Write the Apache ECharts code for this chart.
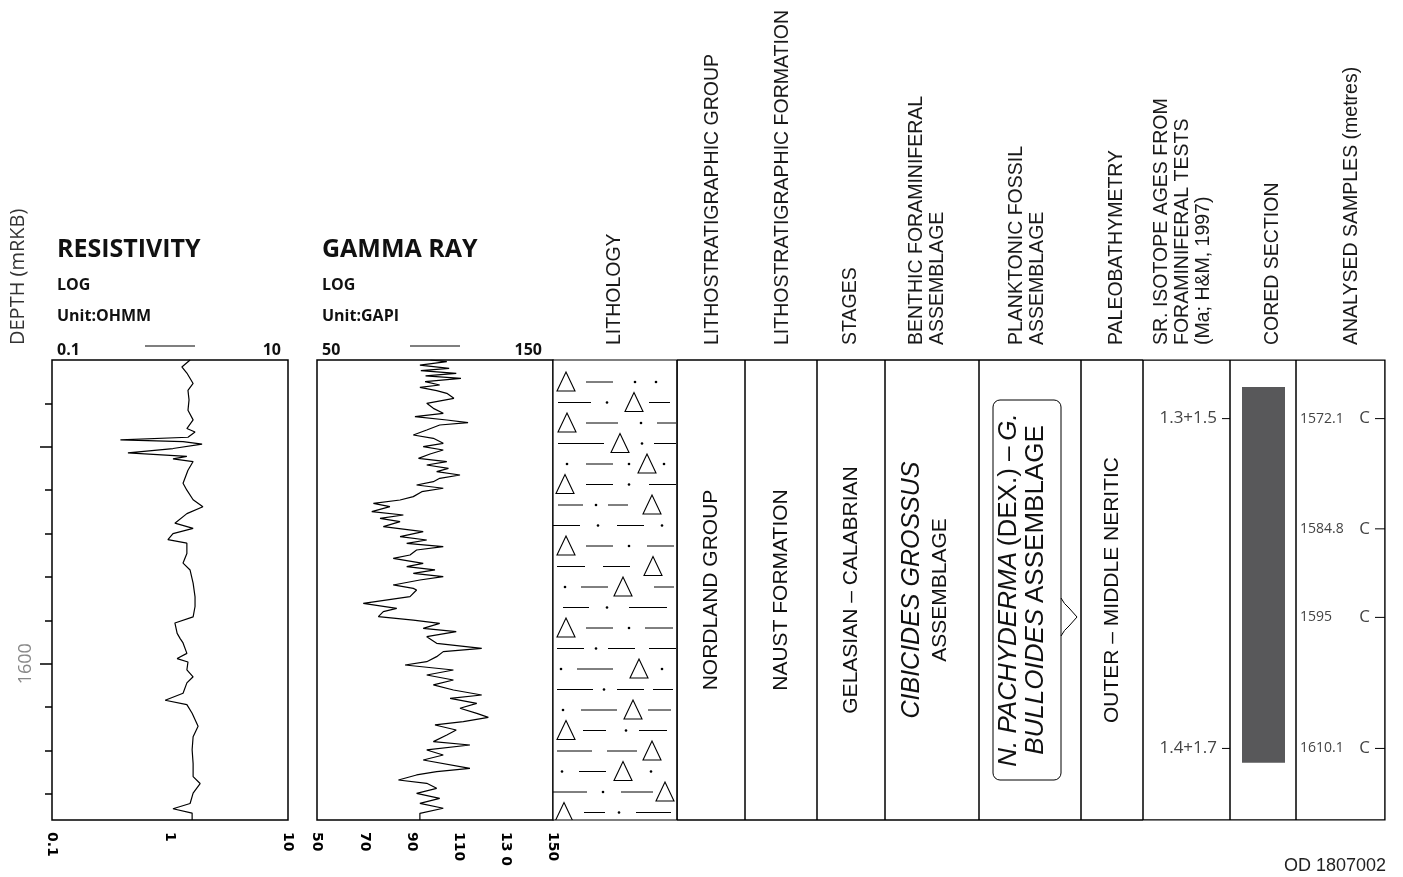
<!DOCTYPE html>
<html><head><meta charset="utf-8">
<script src="https://cdn.jsdelivr.net/npm/echarts@6/dist/echarts.min.js"></script>
<style>html,body{margin:0;padding:0;background:#fff}#c{width:1403px;height:877px}</style>
</head><body><div id="c"></div>
<script>
// ---------------- DATA ----------------
const depthMin = 1565, depthMax = 1618;
const depthLabelValues = [1600];
const depthMinorTicks = [1570,1575,1580,1585,1590,1595,1600,1605,1610,1615];
const depthMajorTicks = [1575, 1600];

const resDepth = [1565.0,1565.8,1566.5,1567.7,1568.5,1569.6,1570.8,1571.9,1572.9,1573.3,1573.9,1574.2,1574.4,1574.7,1575.2,1575.7,1576.1,1576.4,1576.7,1577.7,1579.2,1580.0,1581.1,1581.9,1582.7,1583.8,1584.4,1585.0,1585.7,1586.1,1587.3,1588.4,1589.2,1590.7,1592.3,1593.4,1594.6,1595.3,1596.5,1597.1,1597.6,1598.8,1599.4,1599.8,1600.7,1601.5,1602.2,1603.4,1604.2,1604.7,1605.7,1607.2,1608.4,1609.9,1611.5,1613.0,1613.8,1614.9,1616.1,1616.7,1617.2,1618.0];
const resValue = [1.48,1.26,1.39,1.57,1.42,1.45,1.42,1.57,1.39,1.63,1.42,0.38,1.29,1.87,1.06,0.44,1.39,1.06,1.57,1.42,1.29,1.39,1.57,1.90,1.39,1.10,1.57,1.06,0.96,1.39,1.39,1.29,1.48,1.57,1.63,1.63,1.57,1.10,1.15,1.22,1.29,1.39,1.15,1.42,1.39,1.57,1.39,1.29,0.91,1.39,1.54,1.73,1.57,1.54,1.57,1.57,1.80,1.57,1.48,1.06,1.54,1.54];
const resTickLabels = ['0.1','1','10'];

const grDepth = [1565.0,1565.19,1565.58,1565.96,1566.23,1566.54,1566.84,1567.11,1567.50,1567.88,1568.15,1568.53,1568.84,1569.42,1569.99,1570.57,1571.14,1571.53,1571.91,1572.22,1572.49,1573.06,1573.64,1574.02,1574.60,1574.98,1575.37,1575.83,1576.33,1576.71,1577.10,1577.48,1577.86,1578.25,1578.63,1579.02,1579.40,1579.78,1580.17,1580.74,1581.13,1581.51,1581.90,1582.47,1582.86,1583.24,1583.63,1584.20,1584.78,1585.35,1585.74,1586.12,1586.51,1586.89,1587.47,1587.85,1588.43,1588.81,1589.19,1589.58,1589.96,1590.35,1590.92,1591.31,
 1591.50,1592.27,1593.04,1593.61,1594.00,1594.57,1594.96,1595.34,1595.92,1596.30,1596.88,1597.64,1598.22,1598.60,1599.18,1599.76,1600.14,1600.72,1601.29,1601.87,1602.44,1603.02,1603.60,1603.98,1604.56,1605.13,1605.71,1606.17,1606.67,1607.05,1607.63,1608.20,1608.97,1609.36,1609.93,1610.51,1611.09,1612.05,1612.43,1612.81,1613.39,1613.77,1614.35,1614.93,1615.50,1616.08,1616.65,1617.23,1618.0];
const grValue = [98,105,93.6,106,94,109,96,111,95.8,102,93.6,100.7,105,108,96.5,99.3,103.5,91.5,105,114,102,96.5,90.8,99.3,103.5,95,103.5,97.9,93,105,96.5,105.7,100.7,110.6,102,99.3,92.2,103.5,94.4,90.8,85.2,73.9,80.9,73.2,86.6,76.7,85.2,78.1,95,85.2,96.5,88,103.5,92.2,89.4,82.3,95,88,100,90.8,103.5,93.6,82.3,90.8,
 92.2,89.4,69.6,83.8,78.1,76,90.8,102,95,109,96.5,100.7,119.8,103.5,100.7,96.5,87.3,107.8,96.5,107.8,99.3,107.8,119.8,106.4,117.7,110.6,117.7,122.6,112,100,109,105,99.3,114.8,96.5,103.5,95,114.8,100.7,92.2,84.5,96.5,100.7,92.2,102,93.6,103.5,93.6,93.6];
const grTickLabels = {50:'50',70:'70',90:'90',110:'110',130:'13 0',150:'150'};

const lithoTop = [1565], lithoBase = [1618];
const unitColumns = ['group','formation','stage','benthic','plank','bathy'];
const unitTop  = [1565,1565,1565,1565,1565,1565];
const unitBase = [1618,1618,1618,1618,1618,1618];
const unitLabels = [
  'NORDLAND GROUP',
  'NAUST FORMATION',
  'GELASIAN – CALABRIAN',
  '{bi|CIBICIDES GROSSUS}\n{n|ASSEMBLAGE}',
  '{pi|N. PACHYDERMA} {pn|(DEX.) –} {pi|G.}\n{pi|BULLOIDES} {pn|ASSEMBLAGE}',
  'OUTER – MIDDLE NERITIC'
];
const coreTop = [1568.1], coreBase = [1611.4];
const sampleDepth = [1572.1, 1584.8, 1595, 1610.1];
const sampleLabel = ['1572.1', '1584.8', '1595', '1610.1'];
const sampleType = ['C','C','C','C'];
const isoDepth = [1572.1, 1610.1];
const isoAge = ['1.3+1.5', '1.4+1.7'];

const headerTexts = ['LITHOLOGY','LITHOSTRATIGRAPHIC GROUP','LITHOSTRATIGRAPHIC FORMATION','STAGES',
  'BENTHIC FORAMINIFERAL\nASSEMBLAGE','PLANKTONIC FOSSIL\nASSEMBLAGE','PALEOBATHYMETRY',
  'SR. ISOTOPE AGES FROM\nFORAMINIFERAL TESTS\n(Ma; H&M, 1997)','CORED SECTION','ANALYSED SAMPLES (metres)'];

// ---------------- LAYOUT / STYLE ----------------
const headerX = [615,713,783,851,927,1027,1117,1183,1273,1352];
const COLS = { litho:[0,124], group:[124,192], formation:[192,264], stage:[264,332], benthic:[332,426],
  plank:[426,528], bathy:[528,590], iso:[590,677], core:[677,743], samples:[743,832] };
const frameCols = ['litho','iso','core','samples'];
const LITHO_ROWS = [
 'T13 D33-60 o82 o103','D5-38 o54 T81 D96-117','T14 D33-65 o88 D104-123','D5-51 T67 o89 D101-123',
 'o14 D33-60 o76 T94 o111','T12 D33-60 o76 D96-123','D5-30 o43 D55-75 T99','D0-27 o45 D64-91 o109',
 'T13 D33-60 o76 D94-121','D4-32 D50-77 T100','o12 D28-55 T70 D101-121','D10-36 o54 D76-114',
 'T13 D33-60 o76 D92-120','D4-31 o43 D55-82 D96-123','o8 D24-60 T86 o109','D4-40 o51 D64-91 D100-120',
 'o10 D28-64 T80 D95-118','T13 D30-53 o73 D86-114','D4-39 D54-84 T99','o9 D26-53 T70 o98',
 'D0-34 o50 D68-100 T112','T11 D31-52 o66 D83-118'];
const SANS = '"Liberation Sans", Arial, sans-serif';
const OPEN = '"Open Sans", sans-serif';
const bodyFont = '21px ' + SANS;

function txt(x, y, text, font, fill, align, valign, rot, extra) {
  const s = Object.assign({text, font, fill: fill || '#111', align: align || 'left', verticalAlign: valign || 'middle',
    textAlign: align || 'left', textVerticalAlign: valign || 'middle'}, extra || {});
  return {type:'text', x, y, rotation: rot || 0, style: s, silent: true};
}

const chart = echarts.init(document.getElementById('c'));

const depthBase = {type:'value', inverse:true, min:depthMin, max:depthMax, interval:5,
  splitLine:{show:false}, axisLine:{show:false}};

function rectBetween(api, c, d0, d1) {
  const p0 = api.coord([c[0], d0]);
  const p1 = api.coord([c[1], d1]);
  return {x:p0[0], y:p0[1], width:p1[0]-p0[0], height:p1[1]-p0[1]};
}

function renderLitho(params, api) {
  const r = rectBetween(api, COLS.litho, api.value(0), api.value(1));
  const ch = [{type:'rect', shape:r, style:{fill:'#fff', stroke:'#000', lineWidth:1.2}}];
  LITHO_ROWS.forEach((row, i) => {
    const y = r.y + 22 + i * 20.5;
    row.split(' ').forEach(tok => {
      const k = tok[0];
      if (k === 'T') {
        const cx = r.x + (+tok.slice(1));
        ch.push({type:'polygon', shape:{points:[[cx-9,y+9],[cx+9,y+9],[cx,y-10]]}, style:{fill:'none', stroke:'#000', lineWidth:1.1}});
      } else if (k === 'D') {
        const [a,b] = tok.slice(1).split('-').map(Number);
        ch.push({type:'line', shape:{x1:r.x+a, y1:y, x2:r.x+b, y2:y}, style:{stroke:'#000', lineWidth:1}});
      } else if (k === 'o') {
        const cx = r.x + (+tok.slice(1));
        ch.push({type:'circle', shape:{cx, cy:y, r:1.3}, style:{fill:'#000'}});
      }
    });
  });
  return {type:'group', children: ch};
}

const RICH = {
  bi:{fontFamily:SANS, fontSize:25, fontStyle:'italic', fill:'#111', align:'center', lineHeight:28},
  n:{fontFamily:SANS, fontSize:21, fill:'#111', align:'center', lineHeight:28},
  pi:{fontFamily:SANS, fontSize:26, fontStyle:'italic', fill:'#111', align:'center', lineHeight:27},
  pn:{fontFamily:SANS, fontSize:26, fill:'#111', align:'center', lineHeight:27}
};

function renderUnit(params, api) {
  const i = params.dataIndex;
  const key = unitColumns[i];
  const r = rectBetween(api, COLS[key], api.value(0), api.value(1));
  const cx = r.x + r.width/2, cy = r.y + r.height/2;
  const ch = [{type:'rect', shape:r, style:{fill:'none', stroke:'#000', lineWidth:1}}];
  let tx = cx;
  if (key === 'benthic') tx = cx - 6;
  if (key === 'plank') {
    tx = cx - 8;
    const bx = cx - 37, bw = 68, by = cy - 190, bh = 380;
    ch.push({type:'rect', shape:{x:bx, y:by, width:bw, height:bh, r:7}, style:{fill:'none', stroke:'#000', lineWidth:1}});
    const rx = bx + bw;
    ch.push({type:'path', shape:{pathData:`M${rx} ${cy+8} Q${rx+3} ${cy+14} ${rx+8} ${cy+18} L${rx+16} ${cy+27} L${rx+8} ${cy+36} Q${rx+3} ${cy+40} ${rx} ${cy+46}`},
      style:{fill:'none', stroke:'#000', lineWidth:1}});
  }
  ch.push(txt(tx, cy, unitLabels[i], bodyFont, '#111', 'center', 'middle', Math.PI/2, {rich: RICH}));
  return {type:'group', children: ch};
}

function renderFrame(params, api) {
  const r = rectBetween(api, COLS[frameCols[params.dataIndex]], api.value(0), api.value(1));
  return {type:'rect', shape:r, style:{fill:'none', stroke:'#000', lineWidth:1}};
}

function renderCore(params, api) {
  const c = COLS.core;
  const r = rectBetween(api, [c[0]+12, c[0]+55], api.value(0), api.value(1));
  return {type:'rect', shape:r, style:{fill:'#58585a'}};
}

function renderSample(params, api) {
  const i = params.dataIndex;
  const c = COLS.samples;
  const p = api.coord([c[0], api.value(0)]);
  const pe = api.coord([c[1], api.value(0)]);
  const y = p[1] - 3;
  return {type:'group', children:[
    txt(p[0]+4, y, sampleLabel[i], '14px ' + OPEN, '#444', 'left', 'middle'),
    txt(pe[0]-15, y, sampleType[i], '17px ' + OPEN, '#444', 'right', 'middle'),
    {type:'line', shape:{x1:pe[0]-10, y1:y, x2:pe[0], y2:y}, style:{stroke:'#000', lineWidth:1}}
  ]};
}

function renderIso(params, api) {
  const i = params.dataIndex;
  const c = COLS.iso;
  const pe = api.coord([c[1], api.value(0)]);
  const y = pe[1] - 3;
  return {type:'group', children:[
    txt(pe[0]-13, y, isoAge[i], '17px ' + OPEN, '#444', 'right', 'middle'),
    {type:'line', shape:{x1:pe[0]-8, y1:y, x2:pe[0], y2:y}, style:{stroke:'#000', lineWidth:1}}
  ]};
}

const graphics = [
  txt(18, 345, 'DEPTH (mRKB)', '20px ' + OPEN, '#333', 'left', 'middle', Math.PI/2),
  txt(57, 250, 'RESISTIVITY', 'bold 25px ' + OPEN, '#111', 'left', 'middle'),
  txt(57, 285, 'LOG', 'bold 16px ' + OPEN, '#111', 'left', 'middle'),
  txt(57, 316, 'Unit:OHMM', 'bold 16px ' + OPEN, '#111', 'left', 'middle'),
  txt(57, 350, '0.1', 'bold 16px ' + OPEN, '#111', 'left', 'middle'),
  txt(281, 350, '10', 'bold 16px ' + OPEN, '#111', 'right', 'middle'),
  {type:'line', shape:{x1:145, y1:346, x2:195, y2:346}, style:{stroke:'#000', lineWidth:1.2}},
  txt(322, 250, 'GAMMA RAY', 'bold 25px ' + OPEN, '#111', 'left', 'middle'),
  txt(322, 285, 'LOG', 'bold 16px ' + OPEN, '#111', 'left', 'middle'),
  txt(322, 316, 'Unit:GAPI', 'bold 16px ' + OPEN, '#111', 'left', 'middle'),
  txt(322, 350, '50', 'bold 16px ' + OPEN, '#111', 'left', 'middle'),
  txt(542, 350, '150', 'bold 16px ' + OPEN, '#111', 'right', 'middle'),
  {type:'line', shape:{x1:410, y1:346, x2:460, y2:346}, style:{stroke:'#000', lineWidth:1.2}},
  txt(1386, 866, 'OD 1807002', '18px ' + SANS, '#222', 'right', 'middle')
];
headerTexts.forEach((t, i) => {
  graphics.push(txt(headerX[i], 345, t, '19.5px ' + SANS, '#1a1a1a', 'left', 'middle', Math.PI/2, {lineHeight:21}));
});

const option = {
  animation: false,
  backgroundColor: '#fff',
  grid: [
    {left:52, top:360, width:236, height:460, show:true, borderColor:'#000', borderWidth:1.5, backgroundColor:'transparent'},
    {left:317, top:360, width:236, height:460, show:true, borderColor:'#000', borderWidth:1.5, backgroundColor:'transparent'},
    {left:553, top:360, width:832, height:460, show:true, borderColor:'#000', borderWidth:1.2, backgroundColor:'transparent'}
  ],
  xAxis: [
    {type:'log', logBase:10, min:0.1, max:10, gridIndex:0, position:'bottom',
      axisLine:{show:false}, axisTick:{show:false}, splitLine:{show:false}, minorSplitLine:{show:false},
      axisLabel:{rotate:-90, fontFamily:'DejaVu Sans', fontWeight:'bold', fontSize:14, color:'#000', margin:12,
        formatter: v => resTickLabels[Math.round(Math.log10(v)) + 1] || ''}},
    {type:'value', min:50, max:150, interval:20, gridIndex:1, position:'bottom',
      axisLine:{show:false}, axisTick:{show:false}, splitLine:{show:false},
      axisLabel:{rotate:-90, fontFamily:'DejaVu Sans', fontWeight:'bold', fontSize:14, color:'#000', margin:12,
        formatter: v => grTickLabels[v] || ''}},
    {type:'value', min:0, max:832, gridIndex:2, show:false}
  ],
  yAxis: [
    Object.assign({}, depthBase, {gridIndex:0, position:'left',
      axisTick:{show:true, length:7, customValues:depthMinorTicks, lineStyle:{color:'#000', width:1.5}},
      axisLabel:{show:true, rotate:90, color:'#888', fontSize:18, fontFamily:OPEN, margin:17,
        customValues: depthLabelValues, formatter: v => String(v)}}),
    Object.assign({}, depthBase, {gridIndex:0, position:'left',
      axisTick:{show:true, length:12, customValues:depthMajorTicks, lineStyle:{color:'#000', width:1.5}},
      axisLabel:{show:false}}),
    Object.assign({}, depthBase, {gridIndex:1, show:false}),
    Object.assign({}, depthBase, {gridIndex:2, show:false})
  ],
  series: [
    {type:'line', xAxisIndex:0, yAxisIndex:0, symbol:'none', silent:true,
      lineStyle:{color:'#000', width:1.2}, data: resDepth.map((d, i) => [resValue[i], d])},
    {type:'line', xAxisIndex:1, yAxisIndex:2, symbol:'none', silent:true,
      lineStyle:{color:'#000', width:1.2}, data: grDepth.map((d, i) => [grValue[i], d])},
    {type:'custom', xAxisIndex:2, yAxisIndex:3, clip:true, silent:true, renderItem: renderFrame,
      data: frameCols.map(() => [depthMin, depthMax])},
    {type:'custom', xAxisIndex:2, yAxisIndex:3, clip:true, silent:true, renderItem: renderLitho,
      data: lithoTop.map((t, i) => [t, lithoBase[i]])},
    {type:'custom', xAxisIndex:2, yAxisIndex:3, clip:false, silent:true, renderItem: renderUnit,
      data: unitTop.map((t, i) => [t, unitBase[i]])},
    {type:'custom', xAxisIndex:2, yAxisIndex:3, clip:true, silent:true, renderItem: renderCore,
      data: coreTop.map((t, i) => [t, coreBase[i]])},
    {type:'custom', xAxisIndex:2, yAxisIndex:3, clip:false, silent:true, renderItem: renderSample,
      data: sampleDepth.map(d => [d])},
    {type:'custom', xAxisIndex:2, yAxisIndex:3, clip:false, silent:true, renderItem: renderIso,
      data: isoDepth.map(d => [d])}
  ],
  graphic: graphics
};
chart.setOption(option);
</script>
</body></html>
